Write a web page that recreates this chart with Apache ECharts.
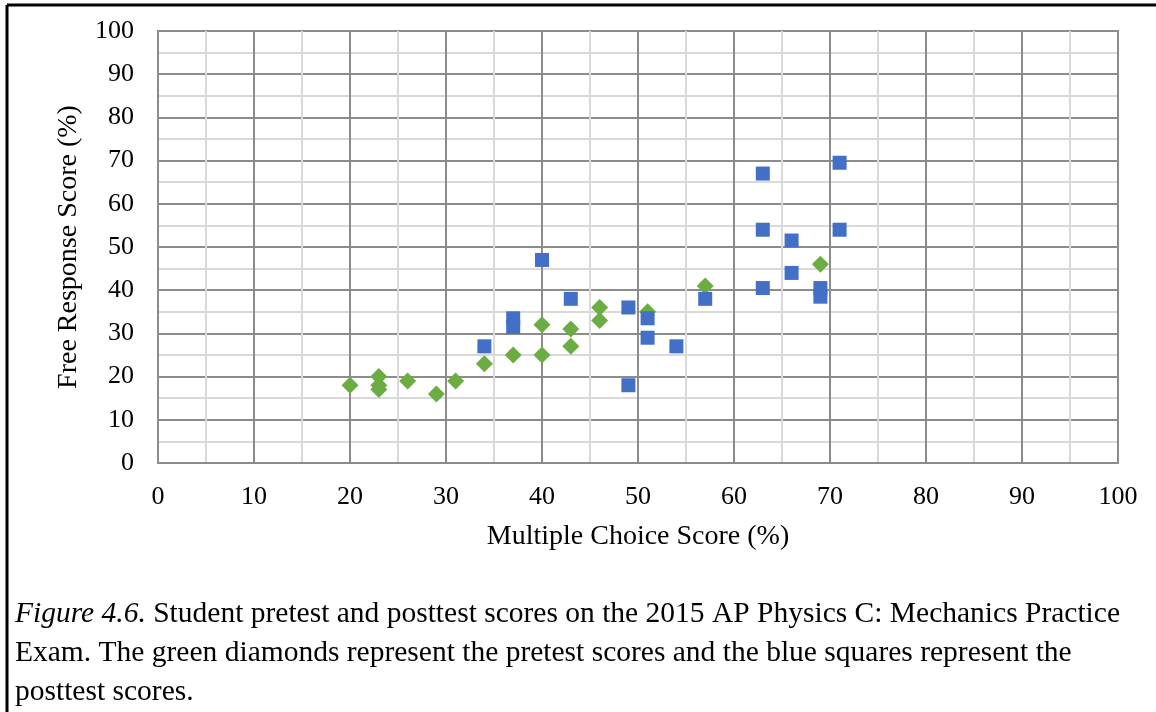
<!DOCTYPE html>
<html>
<head>
<meta charset="utf-8">
<script src="https://cdn.jsdelivr.net/npm/echarts@6/dist/echarts.min.js"></script>
<style>
  html, body { margin: 0; padding: 0; background: #fff; }
  #chart { width: 1156px; height: 712px; }
</style>
</head>
<body>
<div id="chart"></div>
<script>
// pretest scores (green diamonds): [multiple choice, free response]
const pretest = [
    [20, 18], [23, 20], [23, 18], [23, 17], [26, 19], [29, 16], [31, 19],
    [34, 23], [37, 25], [40, 25], [40, 32], [43, 31], [43, 27], [46, 36],
    [46, 33], [51, 35], [57, 41], [69, 46]
];

// posttest scores (blue squares)
const posttest = [
    [34, 27], [37, 33.5], [37, 31.5], [40, 47], [43, 38], [49, 36], [49, 18],
    [51, 33.5], [51, 29], [54, 27], [57, 38], [63, 67], [63, 54], [63, 40.5],
    [66, 51.5], [66, 44], [69, 40.5], [69, 38.5], [71, 69.5], [71, 54]
];

const tickLabels = ['0', '10', '20', '30', '40', '50', '60', '70', '80', '90', '100'];

const captionLines = [
    'Student pretest and posttest scores on the 2015 AP Physics C: Mechanics Practice',
    'Exam. The green diamonds represent the pretest scores and the blue squares represent the',
    'posttest scores.'
];

const serif = '"Liberation Serif", "Times New Roman", serif';
const majorColor = '#8c8c8c';
const minorColor = '#d9d9d9';

function valueAxis(name, gap) {
    return {
        type: 'value',
        min: 0,
        max: 100,
        interval: 10,
        name: name,
        nameLocation: 'middle',
        nameGap: gap,
        nameTextStyle: { fontFamily: serif, fontSize: 28, color: '#000' },
        axisLine: { show: true, lineStyle: { color: majorColor, width: 2 } },
        axisTick: { show: false },
        axisLabel: {
            fontFamily: serif, fontSize: 26, color: '#000',
            formatter: v => tickLabels[Math.round(v / 10)]
        },
        splitLine: { show: true, lineStyle: { color: majorColor, width: 2 } },
        minorTick: { show: false, splitNumber: 2 },
        minorSplitLine: { show: true, lineStyle: { color: minorColor, width: 2 } }
    };
}

const myChart = echarts.init(document.getElementById('chart'), null, { renderer: 'canvas' });

const xAxis = valueAxis('Multiple Choice Score (%)', 60);
xAxis.axisLabel.margin = 21;
const yAxis = valueAxis('Free Response Score (%)', 75);
yAxis.axisLabel.margin = 24;

myChart.setOption({
    animation: false,
    backgroundColor: '#fff',
    grid: {
        left: 158, right: 38, top: 31, bottom: 249,
        show: true, borderColor: majorColor, borderWidth: 2
    },
    xAxis: xAxis,
    yAxis: yAxis,
    series: [
        {
            name: 'Pretest',
            type: 'scatter',
            symbol: 'diamond',
            symbolSize: 17,
            itemStyle: { color: '#6BAC43', opacity: 1 },
            data: pretest
        },
        {
            name: 'Posttest',
            type: 'scatter',
            symbol: 'rect',
            symbolSize: 14,
            itemStyle: { color: '#4170C6', opacity: 1 },
            data: posttest
        }
    ],
    graphic: [
        // frame around the figure
        { type: 'line', shape: { x1: 7, y1: 5, x2: 7, y2: 712 }, style: { stroke: '#000', lineWidth: 3 } },
        { type: 'line', shape: { x1: 7, y1: 5, x2: 1156, y2: 5 }, style: { stroke: '#000', lineWidth: 3 } },
        {
            type: 'text',
            left: 15,
            top: 595,
            style: {
                text: '{it|Figure 4.6.} ' + captionLines[0] + '\n' + captionLines[1] + '\n' + captionLines[2],
                fontFamily: serif,
                fontSize: 29.5,
                lineHeight: 39,
                fill: '#000',
                rich: {
                    it: { fontFamily: serif, fontSize: 29.5, fontStyle: 'italic', lineHeight: 39, fill: '#000' }
                }
            }
        }
    ]
});
</script>
</body>
</html>
